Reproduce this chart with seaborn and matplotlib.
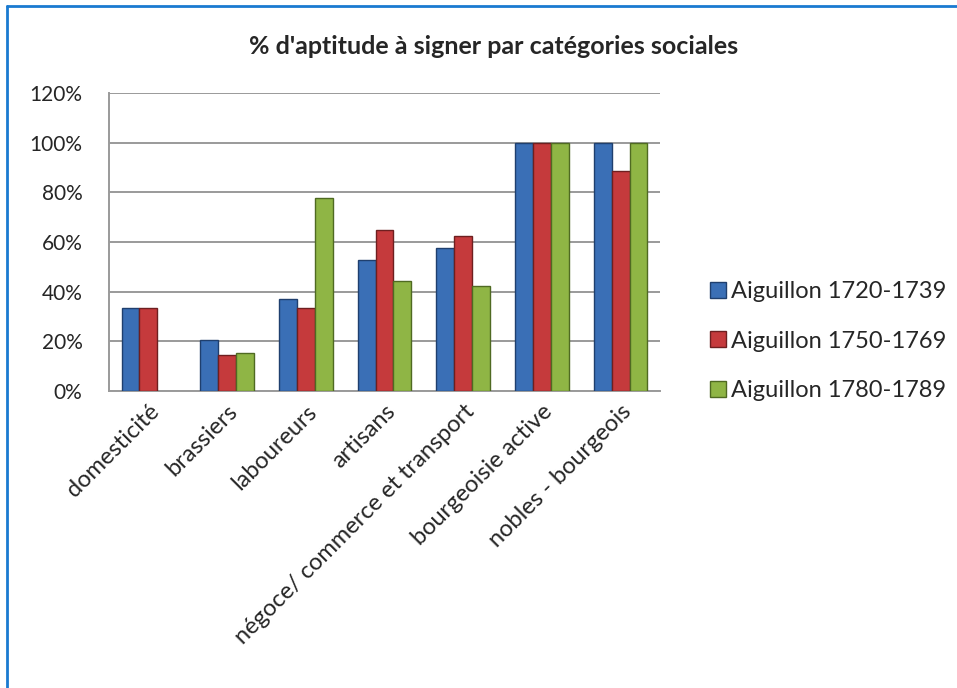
import seaborn as sns
import matplotlib.pyplot as plt
import pandas as pd
import numpy as np
from matplotlib.ticker import PercentFormatter, FixedLocator
from matplotlib.lines import Line2D

# données (en %)
categories = ["domesticité", "brassiers", "laboureurs", "artisans",
              "négoce/ commerce et transport", "bourgeoisie active", "nobles - bourgeois"]
series = ["Aiguillon 1720-1739", "Aiguillon 1750-1769", "Aiguillon 1780-1789"]
v1720 = [33.3, 20.5, 37.2, 52.6, 57.7, 100, 100]
v1750 = [33.3, 14.5, 33.3, 64.7, 62.5, 100, 88.6]
v1780 = [np.nan, 15.2, 77.8, 44.4, 42.2, 100, 100]
colors = ["#3a6fb6", "#c53a3c", "#8fb545"]
edges = ["#1f3f6e", "#6e1f20", "#4f6a22"]

df = pd.DataFrame({
    "categorie": categories * 3,
    "serie": [s for s in series for _ in categories],
    "valeur": v1720 + v1750 + v1780,
})

sns.set_style("white")
plt.rcParams['font.family'] = ['Lato', 'DejaVu Sans']

fig = plt.figure(figsize=(9.57, 6.88), dpi=100)
ax = fig.add_axes([0.1139, 0.4317, 0.5758, 0.4331])

sns.barplot(data=df, x="categorie", y="valeur", hue="serie", order=categories,
            hue_order=series, palette=colors, saturation=1, width=0.68, gap=0,
            ax=ax, legend=False, zorder=3)

# bords plus sombres par série
for i, cont in enumerate(ax.containers):
    for p in cont.patches:
        p.set_edgecolor(edges[i])
        p.set_linewidth(1.0)

ax.set_ylim(0, 120)
ax.set_xlim(-0.5, len(categories) - 0.5)
ax.yaxis.set_major_locator(FixedLocator(range(0, 121, 20)))
ax.yaxis.set_major_formatter(PercentFormatter(decimals=0))
ax.grid(axis="y", color="#9a9a9a", linewidth=1.4, zorder=0)
ax.set_axisbelow(True)
ax.set_xlabel("")
ax.set_ylabel("")

for s in ["top", "right"]:
    ax.spines[s].set_visible(False)
for s in ["left", "bottom"]:
    ax.spines[s].set_color("#9a9a9a")
    ax.spines[s].set_linewidth(1.4)

ax.tick_params(axis="y", length=7, width=1.4, color="#9a9a9a", labelsize=15, pad=12)
ax.set_xticks(range(len(categories)))
ax.set_xticklabels(categories, rotation=45, ha="right", rotation_mode="anchor", fontsize=17)
ax.tick_params(axis="x", which="major", length=0, pad=7)
ax.set_xticks(np.arange(-0.5, len(categories)), minor=True)
ax.tick_params(axis="x", which="minor", length=7, width=1.4, color="#9a9a9a")

fig.text(0.516, 0.932, "% d'aptitude à signer par catégories sociales",
         ha="center", va="center", fontsize=18, fontweight="bold")

handles = [Line2D([0], [0], marker="s", linestyle="none", markersize=12,
                  markerfacecolor=colors[i], markeredgecolor=edges[i]) for i in range(3)]
fig.legend(handles, series, loc="center left", bbox_to_anchor=(0.728, 0.504),
           frameon=False, fontsize=17, labelspacing=1.2, handletextpad=0.15,
           handlelength=0.8, borderpad=0)

# cadre bleu (haut et gauche)
fig.add_artist(Line2D([0.0073, 0.0073], [0, 0.991], transform=fig.transFigure,
                      color="#1a7ad0", linewidth=2))
fig.add_artist(Line2D([0.0073, 1], [0.991, 0.991], transform=fig.transFigure,
                      color="#1a7ad0", linewidth=2))

fig.savefig("out.png", dpi=100)
